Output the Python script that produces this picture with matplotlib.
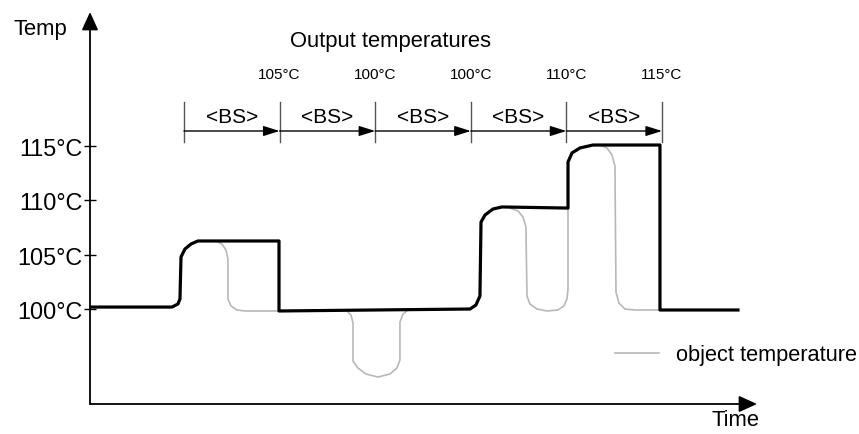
import matplotlib.pyplot as plt

plt.rcParams['font.family'] = ['Liberation Sans', 'DejaVu Sans']

# set temperature (black), time in <BS> units, temperature in °C
set_time = [-0.983, -0.126, -0.063, -0.042, -0.031, 0.010, 0.073, 0.146, 0.994, 0.994,
            2.992, 3.054, 3.096, 3.107, 3.149, 3.232, 3.326, 4.017, 4.017, 4.059,
            4.142, 4.278, 4.979, 4.979, 5.795]
set_temp = [100.18, 100.18, 100.46, 100.92, 104.79, 105.52, 105.98, 106.26, 106.26, 99.82,
            100.0, 100.37, 101.2, 108.0, 108.65, 109.2, 109.39, 109.29, 113.53, 114.36,
            114.82, 115.09, 115.09, 99.91, 99.91]

# object temperature (grey), three pieces
obj1_time = [0.335, 0.397, 0.439, 0.460, 0.460, 0.492, 0.554, 0.638, 0.994]
obj1_temp = [106.26, 105.98, 105.43, 104.6, 100.92, 100.28, 99.91, 99.82, 99.82]

obj2_time = [1.695, 1.747, 1.768, 1.768, 1.820, 1.904, 2.029, 2.155, 2.228, 2.259,
             2.259, 2.291, 2.343]
obj2_temp = [99.91, 99.45, 98.71, 95.21, 94.57, 94.02, 93.74, 94.02, 94.57, 95.31,
             98.80, 99.54, 99.91]

obj3_time = [3.410, 3.494, 3.546, 3.577, 3.588, 3.619, 3.692, 3.797, 3.912, 3.975,
             4.006, 4.017, 4.017, 4.059, 4.142, 4.278, 4.351, 4.425, 4.477, 4.508,
             4.519, 4.550, 4.613, 4.718, 4.979]
obj3_temp = [109.29, 109.02, 108.47, 107.55, 101.2, 100.46, 100.0, 99.82, 99.91, 100.28,
             100.92, 101.84, 113.53, 114.36, 114.82, 115.09, 115.09, 114.82, 114.17, 113.16,
             101.56, 100.55, 100.0, 99.91, 99.91]

bs_edges = [0, 1, 2, 3, 4, 5]
output_labels = ['105°C', '100°C', '100°C', '110°C', '115°C']
tick_temps = [100, 105, 110, 115]
tick_labels = ['100°C', '105°C', '110°C', '115°C']

fig = plt.figure(figsize=(8.59, 4.35), dpi=100)
ax = fig.add_axes([90/859, 30/435, 667/859, 392/435])
ax.set_xlim(-0.983, 5.994)
ax.set_ylim(91.26, 127.33)

grey = '#b8b8b8'
ax.plot(obj1_time, obj1_temp, color=grey, lw=1.2, label='object temperature')
ax.plot(obj2_time, obj2_temp, color=grey, lw=1.2)
ax.plot(obj3_time, obj3_temp, color=grey, lw=1.2)
ax.plot(set_time, set_temp, color='black', lw=2.3, solid_joinstyle='round')

# <BS> intervals
arrow_y = 116.38
for i in range(len(bs_edges) - 1):
    a, b = bs_edges[i], bs_edges[i + 1]
    ax.annotate('', xy=(b, arrow_y), xytext=(a, arrow_y),
                arrowprops=dict(arrowstyle='-|>,head_length=0.7,head_width=0.22',
                                color='black', lw=1.0, shrinkA=0, shrinkB=0,
                                mutation_scale=14))
    ax.text((a + b) / 2, 117.76, '<BS>', ha='center', va='center', fontsize=15)
    ax.text(b, 121.63, output_labels[i], ha='center', va='center', fontsize=11)
for e in bs_edges:
    ax.plot([e, e], [115.37, 119.05], color='#555555', lw=1.0)

ax.text(2.165, 124.75, 'Output temperatures', ha='center', va='center', fontsize=15.8)

# axes with arrows
for s in ax.spines.values():
    s.set_visible(False)
ax.annotate('', xy=(0, 1), xytext=(0, 0), xycoords='axes fraction',
            arrowprops=dict(arrowstyle='-|>,head_length=0.55,head_width=0.25',
                            color='black', lw=1.3, shrinkA=0, shrinkB=0, mutation_scale=20))
ax.annotate('', xy=(1, 0), xytext=(0, 0), xycoords='axes fraction',
            arrowprops=dict(arrowstyle='-|>,head_length=0.55,head_width=0.25',
                            color='black', lw=1.3, shrinkA=0, shrinkB=0, mutation_scale=20))

ax.set_xticks([])
ax.set_yticks(tick_temps)
ax.set_yticklabels(tick_labels, fontsize=16.8)
ax.tick_params(axis='y', direction='inout', length=8, width=1, pad=1.5)

fig.text(40/859, 1 - 30/435, 'Temp', ha='center', va='center', fontsize=15.8)
fig.text(735/859, 1 - 421/435, 'Time', ha='center', va='center', fontsize=15.8)

ax.legend(loc='center left', bbox_to_anchor=(615/859, 1 - 356/435),
          bbox_transform=fig.transFigure, frameon=False, fontsize=15.7,
          handlelength=2.0, handletextpad=0.8, borderpad=0, borderaxespad=0)

fig.savefig('out.png', dpi=100)
